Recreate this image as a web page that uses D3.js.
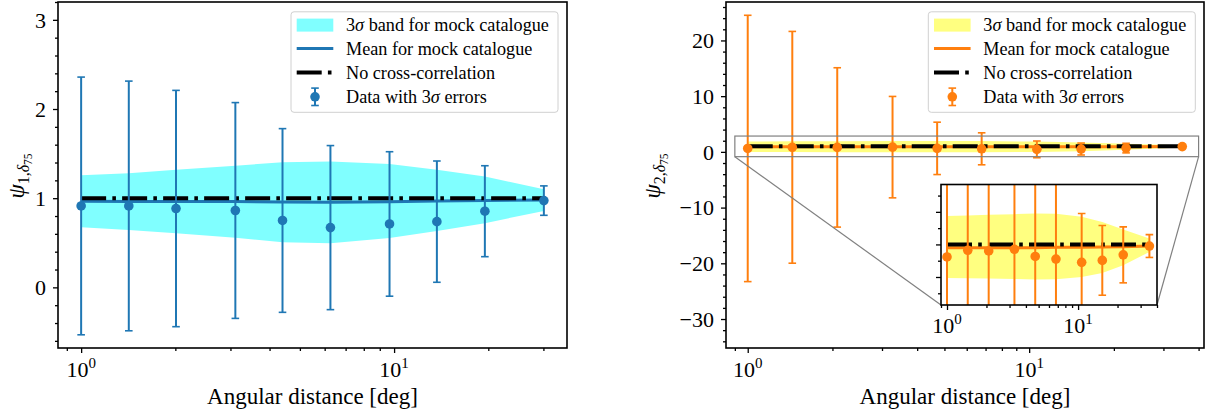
<!DOCTYPE html>
<html lang="en">
<head>
<meta charset="UTF-8">
<title>psi cross-correlation</title>
<script src="https://d3js.org/d3.v7.min.js"></script>
<style>
  body { margin: 0; background: #fff; }
  svg text { font-family: "Liberation Serif", "Times New Roman", serif; fill: #000; }
</style>
</head>
<body>
<div id="chart"></div>
<script>
// psi_1 panel
const xLeft = [1.0, 1.42, 2.01, 3.11, 4.40, 6.26, 9.67, 13.7, 19.5, 30.1];
const psi1 = [0.913, 0.913, 0.884, 0.862, 0.750, 0.670, 0.711, 0.737, 0.854, 0.973];
const psi1Err = [1.445, 1.400, 1.325, 1.210, 1.030, 0.920, 0.810, 0.680, 0.510, 0.165];
const psi1Mean = [0.966, 0.964, 0.963, 0.962, 0.958, 0.955, 0.960, 0.968, 0.975, 0.980];
const psi1BandLo = [0.674, 0.644, 0.607, 0.557, 0.505, 0.494, 0.554, 0.633, 0.720, 0.857];
const psi1BandHi = [1.258, 1.281, 1.318, 1.363, 1.404, 1.410, 1.382, 1.318, 1.243, 1.100];

// psi_2 panel
const xRight = [1.0, 1.44, 2.08, 3.27, 4.71, 6.78, 10.65, 15.3, 22.1, 35.0];
const psi2 = [0.615, 0.82, 0.80, 0.85, 0.63, 0.55, 0.45, 0.51, 0.68, 0.95];
const psi2Err = [23.9, 20.8, 14.3, 9.1, 4.7, 2.87, 1.5, 1.07, 0.86, 0.35];
const psi2Mean = [0.90, 0.90, 0.90, 0.90, 0.90, 0.91, 0.91, 0.92, 0.93, 0.95];
const psi2BandLo = [-0.03, -0.04, -0.05, -0.06, -0.08, -0.07, 0.00, 0.12, 0.36, 0.77];
const psi2BandHi = [1.87, 1.89, 1.91, 1.93, 1.95, 1.94, 1.85, 1.69, 1.46, 1.18];

const noCorrelation = 1;

// ticks
const xMajor = [1, 10];
const yTicksLeft = [0, 1, 2, 3];
const yTicksRight = [-30, -20, -10, 0, 10, 20];
const yTicksInset = [0, 1, 2];

const legendLabels = ["3σ band for mock catalogue", "Mean for mock catalogue",
                      "No cross-correlation", "Data with 3σ errors"];
const xLabel = "Angular distance [deg]";

const W = 1208, H = 414;
const FONT = '"Liberation Serif", "Times New Roman", serif';
const svg = d3.select("#chart").append("svg")
  .attr("width", W).attr("height", H).attr("font-family", FONT);

const DASHDOT = "25,6.2,3.6,6.2";

// matplotlib-like log padding (5% each side in log space)
function logDomain(xs) {
  const a = Math.log10(d3.min(xs)), b = Math.log10(d3.max(xs));
  const m = (b - a) * 0.05;
  return [Math.pow(10, a - m), Math.pow(10, b + m)];
}

function logMinor(domain) {
  const out = [];
  for (let e = -1; e <= 2; e++) {
    for (let k = 2; k <= 9; k++) {
      const v = k * Math.pow(10, e);
      if (v >= domain[0] && v <= domain[1]) out.push(v);
    }
  }
  return out;
}

function linMinor(domain, step, major) {
  const out = [];
  const start = Math.ceil(domain[0] / step);
  for (let i = start; i * step <= domain[1]; i++) {
    const v = +(i * step).toFixed(6);
    if (!major.some(m => Math.abs(m - v) < 1e-9)) out.push(v);
  }
  return out;
}

function fmtNum(v) { return v < 0 ? "\u2212" + Math.abs(v) : String(v); }

function drawSeries(g, x, y, s) {
  const area = d3.area()
    .x((d, i) => x(s.xs[i]))
    .y0((d, i) => y(s.lo[i]))
    .y1((d, i) => y(s.hi[i]));
  g.append("path").datum(s.xs).attr("d", area).attr("fill", s.band);

  const line = d3.line().x((d, i) => x(s.xs[i])).y(d => y(d));
  g.append("path").datum(s.mean).attr("d", line)
    .attr("fill", "none").attr("stroke", s.color).attr("stroke-width", 3);

  g.append("path").datum(s.xs.map(() => noCorrelation)).attr("d", line)
    .attr("fill", "none").attr("stroke", "#000").attr("stroke-width", 4)
    .attr("stroke-dasharray", DASHDOT);

  const eb = g.append("g").attr("stroke", s.color).attr("stroke-width", 2);
  s.vals.forEach((v, i) => {
    const cx = x(s.xs[i]);
    eb.append("line").attr("x1", cx).attr("x2", cx)
      .attr("y1", y(v - s.err[i])).attr("y2", y(v + s.err[i]));
    [v - s.err[i], v + s.err[i]].forEach(e => {
      eb.append("line").attr("x1", cx - 3.8).attr("x2", cx + 3.8)
        .attr("y1", y(e)).attr("y2", y(e)).attr("stroke-width", 1.6);
    });
  });
  g.append("g").selectAll("circle").data(s.vals).join("circle")
    .attr("cx", (d, i) => x(s.xs[i])).attr("cy", d => y(d))
    .attr("r", 4.8).attr("fill", s.color);
}

function drawAxes(g, x, y, box, yMajor, yMinorStep, showYLabels, labelGap) {
  const xDom = x.domain(), yDom = y.domain();
  const styleAxis = sel => {
    sel.select(".domain").remove();
    sel.selectAll(".tick line").attr("stroke", "#000").attr("stroke-width", 1.3);
  };
  g.append("g").attr("transform", `translate(0,${box.bottom})`)
    .call(d3.axisBottom(x).tickValues(xMajor).tickSize(5).tickFormat(""))
    .call(styleAxis);
  g.append("g").attr("transform", `translate(0,${box.bottom})`)
    .call(d3.axisBottom(x).tickValues(logMinor(xDom)).tickSize(3).tickFormat(""))
    .call(styleAxis);
  g.append("g").attr("transform", `translate(${box.left},0)`)
    .call(d3.axisLeft(y).tickValues(yMajor).tickSize(5).tickFormat(""))
    .call(styleAxis);
  g.append("g").attr("transform", `translate(${box.left},0)`)
    .call(d3.axisLeft(y).tickValues(linMinor(yDom, yMinorStep, yMajor)).tickSize(3).tickFormat(""))
    .call(styleAxis);

  // 10^n labels
  xMajor.forEach(v => {
    const t = g.append("text").attr("x", x(v)).attr("y", box.bottom + labelGap)
      .attr("text-anchor", "middle").attr("font-family", FONT).style("font-size", "22px");
    t.append("tspan").text("10");
    t.append("tspan").attr("dy", -9).style("font-size", "15px").text(Math.round(Math.log10(v)));
  });

  if (showYLabels) {
    yMajor.forEach(v => {
      g.append("text").attr("x", box.left - 12).attr("y", y(v))
        .attr("dy", "0.35em").attr("text-anchor", "end").attr("font-family", FONT)
        .style("font-size", "22px").text(fmtNum(v));
    });
  }

  g.append("rect").attr("x", box.left).attr("y", box.top)
    .attr("width", box.right - box.left).attr("height", box.bottom - box.top)
    .attr("fill", "none").attr("stroke", "#000").attr("stroke-width", 1.6);
}

function drawYLabel(cx, cy, idx) {
  const t = svg.append("text")
    .attr("transform", `translate(${cx},${cy}) rotate(-90)`)
    .attr("text-anchor", "middle").style("font-size", "23px");
  t.append("tspan").style("font-style", "italic").text("ψ");
  const s1 = t.append("tspan").attr("dy", 5).style("font-size", "16px");
  s1.append("tspan").text(idx + ",");
  s1.append("tspan").style("font-style", "italic").text("δ");
  t.append("tspan").attr("dy", 3).style("font-size", "11.5px").text("75");
}

function drawXLabel(cx) {
  svg.append("text").attr("x", cx).attr("y", 404).attr("text-anchor", "middle")
    .style("font-size", "23px").text(xLabel);
}

function drawLegend(x0, y0, color, band) {
  const g = svg.append("g").attr("transform", `translate(${x0},${y0})`);
  g.append("rect").attr("width", 267).attr("height", 100.5).attr("rx", 3)
    .attr("fill", "#fff").attr("fill-opacity", 0.8)
    .attr("stroke", "#d0d0d0").attr("stroke-width", 1);
  const rows = [13.3, 36.8, 60.7, 85];
  const h0 = 5.7, h1 = 42.3, hc = (h0 + h1) / 2;
  g.append("rect").attr("x", h0).attr("y", rows[0] - 6.5)
    .attr("width", h1 - h0).attr("height", 13).attr("fill", band);
  g.append("line").attr("x1", h0).attr("x2", h1).attr("y1", rows[1]).attr("y2", rows[1])
    .attr("stroke", color).attr("stroke-width", 3);
  g.append("line").attr("x1", h0).attr("x2", h1).attr("y1", rows[2]).attr("y2", rows[2])
    .attr("stroke", "#000").attr("stroke-width", 4).attr("stroke-dasharray", DASHDOT);
  const eb = g.append("g").attr("stroke", color);
  eb.append("line").attr("x1", hc).attr("x2", hc).attr("y1", rows[3] - 8.7).attr("y2", rows[3] + 8.7)
    .attr("stroke-width", 2);
  [rows[3] - 8.7, rows[3] + 8.7].forEach(yy => eb.append("line")
    .attr("x1", hc - 3.8).attr("x2", hc + 3.8).attr("y1", yy).attr("y2", yy).attr("stroke-width", 1.6));
  g.append("circle").attr("cx", hc).attr("cy", rows[3]).attr("r", 4.8).attr("fill", color);

  legendLabels.forEach((lab, i) => {
    const t = g.append("text").attr("x", 55).attr("y", rows[i]).attr("dy", "0.33em")
      .style("font-size", "18.2px");
    lab.split("σ").forEach((part, j) => {
      if (j > 0) t.append("tspan").style("font-style", "italic").text("σ");
      t.append("tspan").text(part);
    });
  });
}

// ---------- left panel ----------
const boxL = { left: 58, right: 567, top: 2, bottom: 348 };
const xL = d3.scaleLog().domain(logDomain(xLeft)).range([boxL.left, boxL.right]);
const yL = d3.scaleLinear().domain([-0.68, 3.2]).range([boxL.bottom, boxL.top]);
const gL = svg.append("g");
drawSeries(gL, xL, yL, { xs: xLeft, vals: psi1, err: psi1Err, mean: psi1Mean,
  lo: psi1BandLo, hi: psi1BandHi, color: "#1f77b4", band: "#80ffff" });
drawAxes(gL, xL, yL, boxL, yTicksLeft, 0.2, true, 29);
drawLegend(291, 11.8, "#1f77b4", "#80ffff");
drawYLabel(24, 176, 1);
drawXLabel((boxL.left + boxL.right) / 2);

// ---------- right panel ----------
const boxR = { left: 726, right: 1204, top: 2, bottom: 348 };
const xR = d3.scaleLog().domain(logDomain(xRight)).range([boxR.left, boxR.right]);
const yR = d3.scaleLinear().domain([-35.2, 26.9]).range([boxR.bottom, boxR.top]);
const seriesR = { xs: xRight, vals: psi2, err: psi2Err, mean: psi2Mean,
  lo: psi2BandLo, hi: psi2BandHi, color: "#ff7f0e", band: "#ffff80" };
const gR = svg.append("g");
drawSeries(gR, xR, yR, seriesR);
drawAxes(gR, xR, yR, boxR, yTicksRight, 2, true, 29);
drawLegend(928.3, 11.8, "#ff7f0e", "#ffff80");
drawYLabel(660, 176, 2);
drawXLabel((boxR.left + boxR.right) / 2);

// zoomed inset of the region around psi = 1
const insetX = [0.9, 40], insetY = [-0.86, 2.84];
const boxI = { left: 941, right: 1157, top: 184.5, bottom: 305 };
const xI = d3.scaleLog().domain(insetX).range([boxI.left, boxI.right]);
const yI = d3.scaleLinear().domain(insetY).range([boxI.bottom, boxI.top]);

// marked region and connectors
gR.append("rect").attr("x", xR(insetX[0])).attr("y", yR(insetY[1]))
  .attr("width", xR(insetX[1]) - xR(insetX[0])).attr("height", yR(insetY[0]) - yR(insetY[1]))
  .attr("fill", "none").attr("stroke", "#808080").attr("stroke-width", 1.2);
gR.append("line").attr("x1", xR(insetX[0])).attr("y1", yR(insetY[0]))
  .attr("x2", boxI.left).attr("y2", boxI.bottom).attr("stroke", "#808080").attr("stroke-width", 1.2);
gR.append("line").attr("x1", xR(insetX[1])).attr("y1", yR(insetY[0]))
  .attr("x2", boxI.right).attr("y2", boxI.bottom).attr("stroke", "#808080").attr("stroke-width", 1.2);

const gI = svg.append("g");
gI.append("rect").attr("x", boxI.left).attr("y", boxI.top)
  .attr("width", boxI.right - boxI.left).attr("height", boxI.bottom - boxI.top).attr("fill", "#fff");
svg.append("clipPath").attr("id", "insetClip").append("rect")
  .attr("x", boxI.left).attr("y", boxI.top)
  .attr("width", boxI.right - boxI.left).attr("height", boxI.bottom - boxI.top);
const gIc = gI.append("g").attr("clip-path", "url(#insetClip)");
drawSeries(gIc, xI, yI, seriesR);
drawAxes(gI, xI, yI, boxI, yTicksInset, 0.5, false, 28);
</script>
</body>
</html>
